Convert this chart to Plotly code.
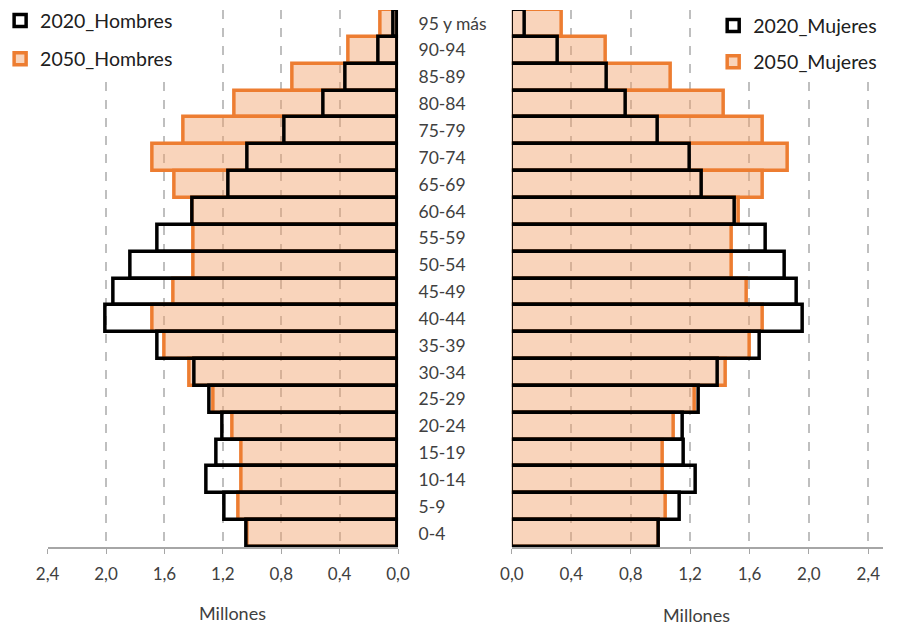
import plotly.graph_objects as go

ages = ["0-4", "5-9", "10-14", "15-19", "20-24", "25-29", "30-34", "35-39",
        "40-44", "45-49", "50-54", "55-59", "60-64", "65-69", "70-74",
        "75-79", "80-84", "85-89", "90-94", "95 y más"]
hombres_2020 = [1.04, 1.19, 1.31, 1.24, 1.20, 1.29, 1.39, 1.65, 2.00, 1.95,
                1.83, 1.65, 1.41, 1.16, 1.03, 0.78, 0.51, 0.36, 0.13, 0.03]
hombres_2050 = [1.03, 1.09, 1.07, 1.07, 1.13, 1.26, 1.43, 1.60, 1.68, 1.54,
                1.40, 1.40, 1.41, 1.53, 1.68, 1.47, 1.12, 0.72, 0.34, 0.12]
mujeres_2020 = [0.99, 1.13, 1.24, 1.16, 1.15, 1.26, 1.39, 1.67, 1.96, 1.92,
                1.84, 1.71, 1.50, 1.28, 1.20, 0.98, 0.77, 0.64, 0.31, 0.09]
mujeres_2050 = [0.99, 1.04, 1.02, 1.02, 1.09, 1.23, 1.44, 1.60, 1.69, 1.58,
                1.48, 1.48, 1.53, 1.69, 1.86, 1.69, 1.43, 1.07, 0.63, 0.34]
tick_vals = [0.0, 0.4, 0.8, 1.2, 1.6, 2.0, 2.4]

FONT = "Lato"
TXT = "#404040"
FILL = "rgba(241,160,105,0.45)"
ORANGE = "#ED7D31"
GRID = "#BFBFBF"
AXIS = "#A6A6A6"

fig = go.Figure()
fig.add_trace(go.Bar(y=ages, x=hombres_2050, orientation="h", name="2050_Hombres",
                     marker=dict(color=FILL, line=dict(color=ORANGE, width=3.5)),
                     xaxis="x", yaxis="y", legend="legend", legendrank=2,
                     legendgroup="h50", hoverinfo="x+y"))
fig.add_trace(go.Bar(y=ages, x=hombres_2020, orientation="h", name="2020_Hombres",
                     marker=dict(color="rgba(0,0,0,0)", line=dict(color="black", width=3.5)),
                     xaxis="x", yaxis="y", legend="legend", legendrank=1,
                     legendgroup="h20", hoverinfo="x+y"))
fig.add_trace(go.Bar(y=ages, x=mujeres_2050, orientation="h", name="2050_Mujeres",
                     marker=dict(color=FILL, line=dict(color=ORANGE, width=3.5)),
                     xaxis="x2", yaxis="y2", legend="legend2", legendrank=2,
                     legendgroup="m50", hoverinfo="x+y"))
fig.add_trace(go.Bar(y=ages, x=mujeres_2020, orientation="h", name="2020_Mujeres",
                     marker=dict(color="rgba(0,0,0,0)", line=dict(color="black", width=3.5)),
                     xaxis="x2", yaxis="y2", legend="legend2", legendrank=1,
                     legendgroup="m20", hoverinfo="x+y"))

ydom = [1 - 547 / 634, 1 - 10 / 634]
xcommon = dict(tickvals=tick_vals, tickformat=".1f", showgrid=True, gridcolor=GRID,
               griddash="dash", gridwidth=1.5, showline=True, linecolor=AXIS, linewidth=2,
               ticks="outside", tickcolor=AXIS, ticklen=5, zeroline=False,
               automargin=False, ticklabelstandoff=6,
               tickfont=dict(family=FONT, size=17, color=TXT), fixedrange=True)
fig.update_layout(
    width=897, height=634,
    margin=dict(l=0, r=0, t=0, b=0),
    paper_bgcolor="white", plot_bgcolor="white",
    separators=",.",
    barmode="overlay", bargap=0,
    font=dict(family=FONT, color=TXT, size=17),
    xaxis=dict(domain=[39 / 897, 393 / 897], range=[2.4, 0], anchor="y", **xcommon),
    yaxis=dict(domain=ydom, range=[-0.5, len(ages) - 0.5], anchor="x", side="right",
               showgrid=False, showline=False, ticks="outside", ticklen=16,
               automargin=False,
               tickcolor="rgba(0,0,0,0)", tickfont=dict(family=FONT, size=17.5, color=TXT)),
    xaxis2=dict(domain=[508 / 897, 883 / 897], range=[0, 2.5], anchor="y2", **xcommon),
    yaxis2=dict(domain=ydom, range=[-0.5, len(ages) - 0.5], anchor="x2",
                automargin=False,
                showticklabels=False, showgrid=False, showline=False, ticks=""),
    legend=dict(x=-0.01, y=0.998, xanchor="left", yanchor="top", bgcolor="white",
                font=dict(family=FONT, size=19.5, color="#202020"),
                traceorder="grouped", tracegroupgap=10),
    legend2=dict(x=0.793, y=0.99, xanchor="left", yanchor="top", bgcolor="white",
                 font=dict(family=FONT, size=19.5, color="#202020"),
                 traceorder="grouped", tracegroupgap=8),
    annotations=[
        dict(text="Millones", x=226 / 897, y=1 - 613 / 634, xref="paper", yref="paper",
             xanchor="center", yanchor="middle",
             showarrow=False, font=dict(family=FONT, size=18, color=TXT)),
        dict(text="Millones", x=694 / 897, y=1 - 615 / 634, xref="paper", yref="paper",
             xanchor="center", yanchor="middle",
             showarrow=False, font=dict(family=FONT, size=18, color=TXT)),
    ],
)

fig.write_html("out.html")
